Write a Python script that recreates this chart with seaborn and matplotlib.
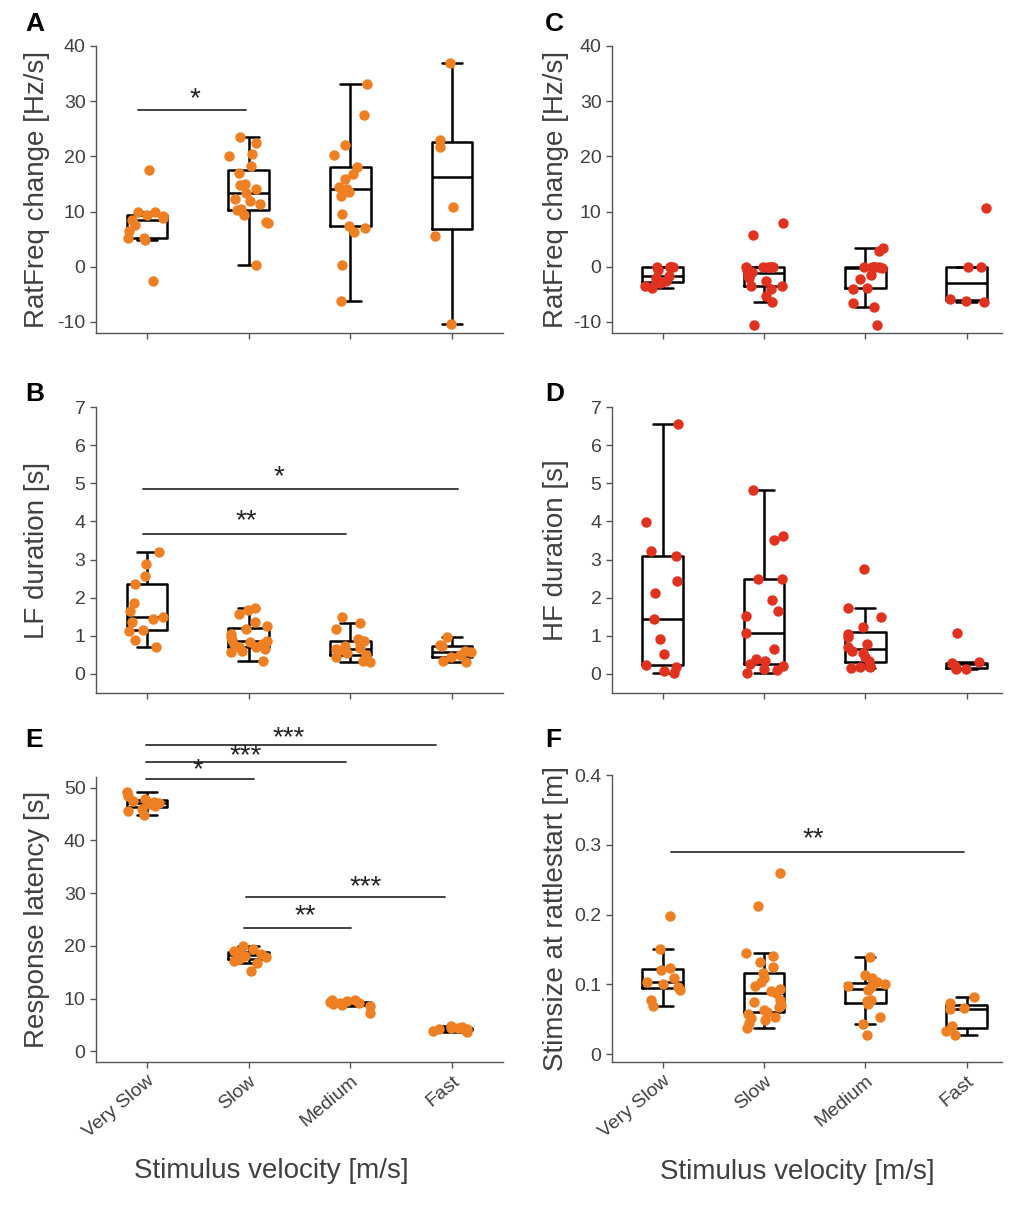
import numpy as np
import pandas as pd
import seaborn as sns
import matplotlib.pyplot as plt

speeds = ["Very Slow", "Slow", "Medium", "Fast"]

# A: rattle frequency change, low-frequency units
ratfreq_lf = [
    [17.6, 10.0, 9.9, 9.4, 9.2, 8.8, 8.5, 7.5, 6.5, 5.3, 5.2, 4.8, -2.5],
    [23.6, 22.4, 20.5, 20.0, 18.2, 17.0, 15.0, 14.9, 14.1, 13.4, 12.3, 12.0,
     11.4, 10.4, 10.3, 9.3, 8.1, 7.9, 0.4],
    [33.2, 27.5, 22.0, 20.2, 18.0, 16.8, 15.9, 14.5, 14.1, 13.6, 12.9, 9.6,
     7.4, 7.0, 6.3, 0.3, -6.2],
    [37.0, 22.9, 21.7, 10.9, 5.6, -10.3],
]
# C: rattle frequency change, high-frequency units
ratfreq_hf = [
    [0, 0, 0, 0, 0, -0.5, -1.7, -2.0, -2.5, -2.7, -3.0, -3.5, -3.8],
    [8.0, 5.7, 0, 0, 0, 0, 0, 0, -0.5, -1.0, -1.3, -1.6, -2.0, -2.5, -3.4,
     -3.5, -4.0, -5.3, -6.3, -10.5],
    [3.4, 2.9, 0, 0, 0, 0, 0, -0.3, -1.5, -2.2, -3.8, -4.0, -6.6, -7.2, -10.5],
    [10.6, 0, 0, -5.8, -6.2, -6.4],
]
# B: LF duration
lf_duration = [
    [3.21, 2.87, 2.56, 2.36, 1.86, 1.65, 1.49, 1.44, 1.36, 1.15, 1.12, 0.89, 0.70],
    [1.73, 1.68, 1.57, 1.36, 1.25, 1.18, 1.05, 0.96, 0.90, 0.86, 0.84, 0.79,
     0.74, 0.71, 0.70, 0.66, 0.61, 0.57, 0.35],
    [1.50, 1.33, 1.18, 0.92, 0.86, 0.79, 0.72, 0.68, 0.65, 0.62, 0.55, 0.50,
     0.45, 0.40, 0.33, 0.30],
    [0.97, 0.75, 0.72, 0.60, 0.57, 0.50, 0.45, 0.35, 0.30],
]
# D: HF duration
hf_duration = [
    [6.56, 3.98, 3.22, 3.08, 2.43, 2.13, 1.43, 0.92, 0.51, 0.24, 0.17, 0.07, 0.02],
    [4.83, 3.63, 3.50, 2.50, 2.48, 1.94, 1.64, 1.53, 1.08, 0.66, 0.40, 0.35,
     0.26, 0.20, 0.13, 0.10, 0.03],
    [2.76, 1.72, 1.49, 1.24, 1.06, 0.98, 0.79, 0.70, 0.61, 0.55, 0.44, 0.35,
     0.21, 0.19, 0.18, 0.16],
    [1.08, 0.30, 0.29, 0.22, 0.14, 0.13],
]
# E: response latency
latency = [
    [49.2, 48.4, 47.8, 47.5, 47.2, 47.0, 46.8, 46.5, 46.0, 45.5, 44.8],
    [19.9, 19.5, 19.0, 18.7, 18.5, 18.3, 18.1, 17.8, 17.5, 17.2, 16.8, 15.2],
    [9.8, 9.7, 9.5, 9.3, 9.2, 9.1, 9.0, 8.8, 8.6, 7.3],
    [4.8, 4.6, 4.5, 4.4, 4.3, 4.2, 4.0, 3.8, 3.6],
]
# F: stimulus size at rattle start
stimsize = [
    [0.198, 0.151, 0.123, 0.121, 0.110, 0.104, 0.100, 0.097, 0.092, 0.078, 0.069],
    [0.259, 0.212, 0.145, 0.141, 0.132, 0.125, 0.117, 0.109, 0.103, 0.098,
     0.094, 0.090, 0.088, 0.078, 0.075, 0.070, 0.068, 0.063, 0.061, 0.058,
     0.054, 0.052, 0.049, 0.045, 0.037],
    [0.140, 0.113, 0.109, 0.103, 0.101, 0.098, 0.096, 0.092, 0.078, 0.076,
     0.072, 0.054, 0.044, 0.027],
    [0.082, 0.074, 0.066, 0.065, 0.040, 0.034, 0.028],
]

ORANGE = "#EE7F22"
RED = "#E0321E"
GREY = "#404040"


def long_df(groups):
    return pd.DataFrame({
        "speed": np.repeat(speeds, [len(g) for g in groups]),
        "value": np.concatenate(groups),
    })


def draw_panel(ax, groups, color, ylim, yticks, ylabel, xmax, bottom=False, yticklabels=None):
    df = long_df(groups)
    sns.stripplot(data=df, x="speed", y="value", order=speeds, color=color,
                  size=7.5, jitter=0.2, ax=ax)
    sns.boxplot(data=df, x="speed", y="value", order=speeds, fill=False,
                color="black", width=0.4, linewidth=1.8, showfliers=False, ax=ax)
    ax.set_xlim(-0.5, xmax)
    ax.set_ylim(*ylim)
    ax.set_yticks(yticks)
    if yticklabels is not None:
        ax.set_yticklabels(yticklabels)
    sns.despine(ax=ax)
    for s in ["left", "bottom"]:
        ax.spines[s].set_color("#555555")
        ax.spines[s].set_linewidth(1.0)
    ax.tick_params(direction="out", length=4, width=1, color="#555555",
                   labelcolor=GREY, labelsize=14)
    ax.set_ylabel(ylabel, fontsize=20, color=GREY)
    ax.set_xlabel("")
    if bottom:
        ax.set_xticks(range(4))
        ax.set_xticklabels(speeds, rotation=40, ha="right", rotation_mode="anchor")
        ax.set_xlabel("Stimulus velocity [m/s]", fontsize=20, color=GREY)
    else:
        ax.tick_params(labelbottom=False)


def sig(ax, x0, x1, y, label, tx, ty):
    ax.plot([x0, x1], [y, y], color="#333333", lw=1.3, clip_on=False)
    ax.text(tx, ty, label, ha="center", va="center", fontsize=20,
            color="#222222")


sns.set_style("ticks")
plt.rcParams["font.family"] = ["Liberation Sans", "DejaVu Sans"]
plt.rcParams["axes.unicode_minus"] = False
np.random.seed(3)

fig = plt.figure(figsize=(10.24, 12.06), dpi=100)
W, H = 1024, 1206


def rect(left, top, right, bottom):
    return [left / W, 1 - bottom / H, (right - left) / W, (bottom - top) / H]


ax_a = fig.add_axes(rect(96, 46, 503, 333))
ax_c = fig.add_axes(rect(612, 46, 1002, 333))
ax_b = fig.add_axes(rect(96, 407, 503, 693))
ax_d = fig.add_axes(rect(612, 407, 1002, 693))
ax_e = fig.add_axes(rect(96, 777, 503, 1062))
ax_f = fig.add_axes(rect(612, 775, 1002, 1062))

draw_panel(ax_a, ratfreq_lf, ORANGE, (-12, 40), range(-10, 41, 10),
           "RatFreq change [Hz/s]", 3.5)
draw_panel(ax_c, ratfreq_hf, RED, (-12, 40), range(-10, 41, 10),
           "RatFreq change [Hz/s]", 3.35)
draw_panel(ax_b, lf_duration, ORANGE, (-0.5, 7), range(0, 8),
           "LF duration [s]", 3.5)
draw_panel(ax_d, hf_duration, RED, (-0.5, 7), range(0, 8),
           "HF duration [s]", 3.35)
draw_panel(ax_e, latency, ORANGE, (-2, 52), range(0, 51, 10),
           "Response latency [s]", 3.5, bottom=True)
draw_panel(ax_f, stimsize, ORANGE, (-0.011, 0.4), [0, 0.1, 0.2, 0.3, 0.4],
           "Stimsize at rattlestart [m]", 3.35, bottom=True,
           yticklabels=["0", "0.1", "0.2", "0.3", "0.4"])

for ax in [ax_a, ax_b, ax_e]:
    ax.yaxis.set_label_coords(-0.113, 0.5)
for ax in [ax_c, ax_d, ax_f]:
    ax.yaxis.set_label_coords(-0.11, 0.5)
ax_e.xaxis.set_label_coords(0.43, -0.337)
ax_f.xaxis.set_label_coords(0.474, -0.337)

# significance bars
sig(ax_a, -0.09, 0.97, 28.4, "*", 0.475, 30.3)
sig(ax_b, -0.04, 3.06, 4.84, "*", 1.30, 5.15)
sig(ax_b, -0.04, 1.96, 3.68, "**", 0.98, 4.0)
sig(ax_e, -0.01, 2.84, 58.1, "***", 1.39, 59.3)
sig(ax_e, -0.01, 1.96, 54.9, "***", 0.97, 56.0)
sig(ax_e, -0.01, 1.05, 51.7, "*", 0.50, 53.2)
sig(ax_e, 0.97, 2.93, 29.3, "***", 2.15, 31.2)
sig(ax_e, 0.95, 2.01, 23.4, "**", 1.56, 25.7)
sig(ax_f, 0.08, 2.97, 0.290, "**", 1.49, 0.308)

for letter, x, y in [("A", 25, 12), ("B", 25, 382), ("C", 545, 12),
                     ("D", 545, 382), ("E", 25, 728), ("F", 545, 728)]:
    fig.text(x / W, 1 - y / H, letter, ha="left", va="top",
             fontsize=19, fontweight="bold", color="black")

fig.savefig("out.png", dpi=100)
